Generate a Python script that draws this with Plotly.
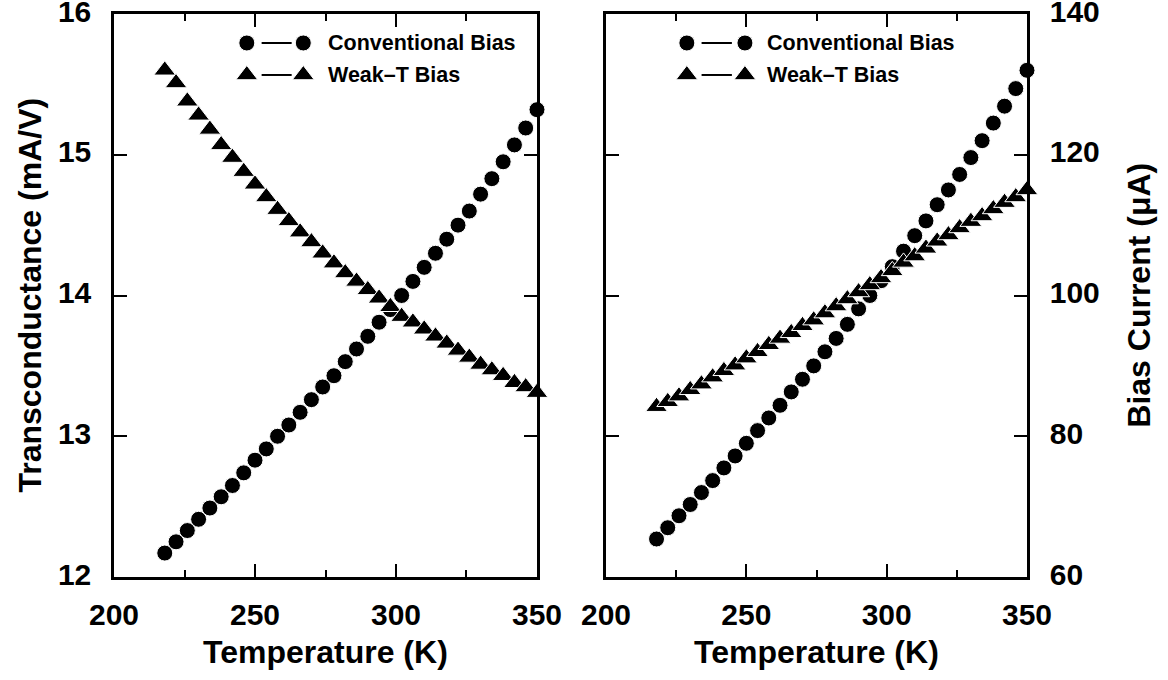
import plotly.graph_objects as go

# Temperature sweep (K)
temperature = [218, 222, 226, 230, 234, 238, 242, 246, 250, 254, 258, 262,
               266, 270, 274, 278, 282, 286, 290, 294, 298, 302, 306, 310,
               314, 318, 322, 326, 330, 334, 338, 342, 346, 350]

# Transconductance (mA/V)
gm_conventional = [12.17, 12.25, 12.33, 12.41, 12.49, 12.57, 12.65, 12.74,
                   12.83, 12.91, 13.00, 13.08, 13.17, 13.26, 13.35, 13.43,
                   13.53, 13.62, 13.71, 13.81, 13.90, 14.00, 14.10, 14.20,
                   14.30, 14.40, 14.50, 14.60, 14.72, 14.83, 14.95, 15.07,
                   15.19, 15.32]
gm_weak_t = [15.60, 15.51, 15.38, 15.28, 15.18, 15.07, 14.98, 14.88,
             14.79, 14.70, 14.61, 14.53, 14.45, 14.38, 14.30, 14.23,
             14.16, 14.10, 14.04, 13.98, 13.92, 13.85, 13.81, 13.76,
             13.71, 13.66, 13.61, 13.56, 13.51, 13.47, 13.43, 13.38,
             13.35, 13.31]

# Bias current (uA)
ib_conventional = [65.4, 67.0, 68.7, 70.3, 72.0, 73.7, 75.5, 77.2,
                   79.0, 80.8, 82.6, 84.4, 86.3, 88.1, 90.0, 92.0,
                   93.9, 95.9, 98.1, 100.0, 102.1, 104.1, 106.3, 108.5,
                   110.6, 112.9, 115.0, 117.2, 119.6, 122.0, 124.5, 126.9,
                   129.4, 132.0]
ib_weak_t = [84.2, 84.9, 85.7, 86.6, 87.4, 88.4, 89.3, 90.1,
             91.1, 92.0, 93.0, 93.9, 94.7, 95.7, 96.5, 97.5,
             98.5, 99.5, 100.5, 101.5, 102.5, 103.5, 104.7, 105.6,
             106.7, 107.7, 108.6, 109.6, 110.5, 111.3, 112.3, 113.2,
             114.0, 115.0]

# Axis ticks
temp_ticks = [200, 250, 300, 350]
temp_minor_ticks = [225, 275, 325]
gm_ticks = [12, 13, 14, 15, 16]
ib_ticks = [60, 80, 100, 120, 140]

series_names = ["Conventional Bias", "Weak\u2013T Bias"]
symbols = ["circle", "triangle-up"]

FONT = "Liberation Sans, Arial, Helvetica, sans-serif"
BLACK = "#000000"

fig = go.Figure()

marker_circle = dict(symbol="circle", size=16, color=BLACK,
                     line=dict(color="white", width=1))
marker_tri = dict(symbol="triangle-up", size=19, color=BLACK,
                  line=dict(color="white", width=1))

# Left panel: transconductance
fig.add_trace(go.Scatter(x=temperature, y=gm_conventional, mode="markers",
                         marker=marker_circle, xaxis="x", yaxis="y",
                         cliponaxis=False, showlegend=False))
fig.add_trace(go.Scatter(x=temperature, y=gm_weak_t, mode="markers",
                         marker=marker_tri, xaxis="x", yaxis="y",
                         cliponaxis=False, showlegend=False))

# Right panel: bias current
fig.add_trace(go.Scatter(x=temperature, y=ib_conventional, mode="markers",
                         marker=marker_circle, xaxis="x2", yaxis="y2",
                         cliponaxis=False, showlegend=False))
fig.add_trace(go.Scatter(x=temperature, y=ib_weak_t, mode="markers",
                         marker=marker_tri, xaxis="x2", yaxis="y2",
                         cliponaxis=False, showlegend=False))

# In-panel legends, drawn on hidden unit axes overlaying each panel
legend_layout = {
    # panel: (overlay x axis, overlay y axis, marker1 x, line x0, line x1, marker2 x, text x)
    "left": ("x3", "y3", 0.314, 0.349, 0.420, 0.4475, 0.501),
    "right": ("x4", "y4", 0.192, 0.227, 0.299, 0.330, 0.378),
}
row_y = [0.9485, 0.8917]

annotations = []
for panel, (xa, ya, m1, l0, l1, m2, tx) in legend_layout.items():
    for name, sym, ry in zip(series_names, symbols, row_y):
        mk = marker_circle if sym == "circle" else marker_tri
        fig.add_trace(go.Scatter(x=[l0, l1], y=[ry, ry], mode="lines",
                                 line=dict(color=BLACK, width=2),
                                 xaxis=xa, yaxis=ya, showlegend=False,
                                 hoverinfo="skip"))
        fig.add_trace(go.Scatter(x=[m1, m2], y=[ry, ry], mode="markers",
                                 marker=mk, xaxis=xa, yaxis=ya,
                                 cliponaxis=False, showlegend=False,
                                 hoverinfo="skip"))
        annotations.append(dict(
            xref=xa, yref=ya, x=tx, y=ry, text=name, showarrow=False,
            xanchor="left", yanchor="middle",
            font=dict(family=FONT, size=21.5, color=BLACK, weight="bold")))

# Axis titles
title_font = dict(family=FONT, size=32, color=BLACK, weight="bold")
annotations += [
    dict(xref="paper", yref="paper", x=0.2316, y=-0.134,
         text="Temperature (K)", showarrow=False, xanchor="center",
         yanchor="middle", font=title_font),
    dict(xref="paper", yref="paper", x=0.7694, y=-0.134,
         text="Temperature (K)", showarrow=False, xanchor="center",
         yanchor="middle", font=title_font),
    dict(xref="paper", yref="paper", x=-0.093, y=0.5,
         text="Transconductance (mA/V)", showarrow=False, textangle=-90,
         xanchor="center", yanchor="middle", font=title_font),
    dict(xref="paper", yref="paper", x=1.1218, y=0.5,
         text="Bias Current (\u03bcA)", showarrow=False, textangle=-90,
         xanchor="center", yanchor="middle", font=title_font),
]

tick_font = dict(family=FONT, size=30, color=BLACK, weight="bold")

x_common = dict(range=[200, 350], tickmode="array", tickvals=temp_ticks,
                ticks="inside", ticklen=13, tickwidth=2, tickcolor=BLACK,
                showline=True, linecolor=BLACK, linewidth=2.5,
                mirror="allticks", showgrid=False, zeroline=False,
                tickfont=tick_font, ticklabelstandoff=9,
                ticklabeloverflow="allow", automargin=False,
                minor=dict(tickmode="array", tickvals=temp_minor_ticks,
                           ticks="inside", ticklen=7, tickwidth=2,
                           tickcolor=BLACK, showgrid=False))
y_common = dict(ticks="inside", ticklen=13, tickwidth=2, tickcolor=BLACK,
                showline=True, linecolor=BLACK, linewidth=2.5,
                mirror="allticks", showgrid=False, zeroline=False,
                tickfont=tick_font, ticklabelstandoff=14, tickmode="array",
                ticklabelshift=-3,
                ticklabeloverflow="allow", automargin=False)

left_dom = [0.0, 0.4633]
right_dom = [0.5389, 1.0]

hidden = dict(range=[0, 1], visible=False, showgrid=False, zeroline=False,
              fixedrange=True, automargin=False)

fig.update_layout(
    width=1168, height=680,
    margin=dict(l=114, r=141, t=14, b=103, autoexpand=False),
    paper_bgcolor="white", plot_bgcolor="rgba(0,0,0,0)",
    showlegend=False,
    xaxis=dict(domain=left_dom, anchor="y", **x_common),
    yaxis=dict(domain=[0, 1], anchor="x", range=[12, 16], tickvals=gm_ticks,
               **y_common),
    xaxis2=dict(domain=right_dom, anchor="y2", **x_common),
    yaxis2=dict(domain=[0, 1], anchor="x2", side="right", range=[60, 140],
                tickvals=ib_ticks, **y_common),
    xaxis3=dict(overlaying="x", anchor="y3", **hidden),
    yaxis3=dict(overlaying="y", anchor="x3", **hidden),
    xaxis4=dict(overlaying="x2", anchor="y4", **hidden),
    yaxis4=dict(overlaying="y2", anchor="x4", **hidden),
    annotations=annotations,
)

fig.write_html("out.html")
